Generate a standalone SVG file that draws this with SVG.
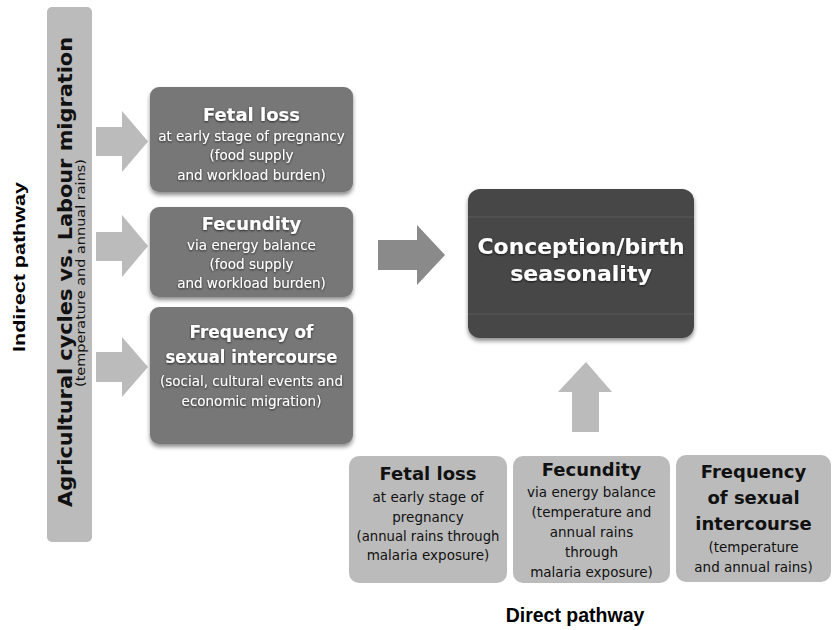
<svg xmlns="http://www.w3.org/2000/svg" width="832" height="630" viewBox="0 0 832 630">
<defs>
<filter id="sh" x="-10%" y="-10%" width="120%" height="130%">
<feDropShadow dx="0" dy="3" stdDeviation="2" flood-color="#000" flood-opacity="0.45"/>
</filter>
<filter id="tsh" x="-5%" y="-20%" width="110%" height="150%">
<feDropShadow dx="0" dy="1" stdDeviation="1.2" flood-color="#000" flood-opacity="0.7"/>
</filter>
</defs>
<style>
.light{fill:#bbbbbb}
.mid{fill:#777777}
.dark{fill:#464646}
.ar{fill:#bbbbbb}
.ar2{fill:#8a8a8a}
text{font-family:"DejaVu Sans","Verdana",sans-serif;text-anchor:middle}
.t{font-size:18px;font-weight:bold}
.s{font-size:13.5px}
.w{fill:#ffffff}
.k{fill:#111111}
.lab{font-family:"Liberation Sans",Arial,sans-serif;font-weight:bold;fill:#000}
</style>
<rect width="832" height="630" fill="#ffffff"/>

<g id="indirect-label">
<text class="lab" font-size="17" transform="translate(25,267) rotate(-90)" textLength="170" lengthAdjust="spacingAndGlyphs">Indirect pathway</text>
</g>

<g id="agri-bar">
<rect class="light" x="47" y="7" width="45" height="535" rx="5"/>
<text class="k" font-size="19" font-weight="bold" transform="translate(72,272) rotate(-90)" textLength="470" lengthAdjust="spacingAndGlyphs">Agricultural cycles vs. Labour migration</text>
<text class="k" font-size="13" transform="translate(85,273) rotate(-90)" textLength="228" lengthAdjust="spacingAndGlyphs">(temperature and annual rains)</text>
</g>

<g id="connectors">
<polygon class="ar" points="96,127 122,127 122,111 148,141.5 122,172 122,156 96,156"/>
<polygon class="ar" points="96,232 122,232 122,215 148,246 122,277 122,261 96,261"/>
<polygon class="ar" points="96,352 122,352 122,337 148,367 122,397 122,382 96,382"/>
<polygon class="ar2" points="378,240 417,240 417,225 445,255 417,285 417,270 378,270"/>
<polygon class="ar" points="586,362 612,392 599,392 599,432 572,432 572,392 558,392"/>
</g>

<g id="node-fetal-indirect">
<rect class="mid" x="150" y="87" width="203" height="105" rx="9" filter="url(#sh)"/>
<g class="w" filter="url(#tsh)">
<text class="t w" x="251.5" y="121">Fetal loss</text>
<text class="s w" x="251.5" y="141">at early stage of pregnancy</text>
<text class="s w" x="251.5" y="160">(food supply</text>
<text class="s w" x="251.5" y="180">and workload burden)</text>
</g>
</g>

<g id="node-fecundity-indirect">
<rect class="mid" x="150" y="207" width="203" height="90" rx="9" filter="url(#sh)"/>
<g filter="url(#tsh)">
<text class="t w" x="251.5" y="230">Fecundity</text>
<text class="s w" x="251.5" y="250">via energy balance</text>
<text class="s w" x="251.5" y="269">(food supply</text>
<text class="s w" x="251.5" y="288">and workload burden)</text>
</g>
</g>

<g id="node-frequency-indirect">
<rect class="mid" x="150" y="307" width="203" height="137" rx="9" filter="url(#sh)"/>
<g filter="url(#tsh)">
<text class="t w" x="251.5" y="338" textLength="124" lengthAdjust="spacingAndGlyphs">Frequency of</text>
<text class="t w" x="251.5" y="363" textLength="172" lengthAdjust="spacingAndGlyphs">sexual intercourse</text>
<text class="s w" x="251.5" y="386">(social, cultural events and</text>
<text class="s w" x="251.5" y="406">economic migration)</text>
</g>
</g>

<g id="node-conception">
<rect class="dark" x="468" y="189" width="226" height="149" rx="12" filter="url(#sh)"/>
<line x1="468" y1="217" x2="694" y2="217" stroke="#5a5a5a" stroke-width="1"/>
<line x1="468" y1="314" x2="694" y2="314" stroke="#5a5a5a" stroke-width="1"/>
<g filter="url(#tsh)">
<text class="w" x="581" y="254" font-size="22" font-weight="bold" textLength="207" lengthAdjust="spacingAndGlyphs">Conception/birth</text>
<text class="w" x="581" y="281" font-size="22" font-weight="bold">seasonality</text>
</g>
</g>

<g id="node-fetal-direct">
<rect class="light" x="349" y="456" width="158" height="127" rx="10"/>
<text class="t k" x="428" y="480">Fetal loss</text>
<text class="s k" x="428" y="502">at early stage of</text>
<text class="s k" x="428" y="522">pregnancy</text>
<text class="s k" x="428" y="541" textLength="143" lengthAdjust="spacingAndGlyphs">(annual rains through</text>
<text class="s k" x="428" y="560">malaria exposure)</text>
</g>

<g id="node-fecundity-direct">
<rect class="light" x="513" y="456" width="157" height="127" rx="10"/>
<text class="t k" x="591.5" y="476">Fecundity</text>
<text class="s k" x="591.5" y="497">via energy balance</text>
<text class="s k" x="591.5" y="517">(temperature and</text>
<text class="s k" x="591.5" y="537">annual rains</text>
<text class="s k" x="591.5" y="557">through</text>
<text class="s k" x="591.5" y="577">malaria exposure)</text>
</g>

<g id="node-frequency-direct">
<rect class="light" x="676" y="455" width="155" height="127" rx="10"/>
<text class="t k" x="753.5" y="478">Frequency</text>
<text class="t k" x="753.5" y="504">of sexual</text>
<text class="t k" x="753.5" y="530">intercourse</text>
<text class="s k" x="753.5" y="552">(temperature</text>
<text class="s k" x="753.5" y="572">and annual rains)</text>
</g>

<g id="direct-label">
<text class="lab" x="575" y="622" font-size="19.5">Direct pathway</text>
</g>
</svg>
